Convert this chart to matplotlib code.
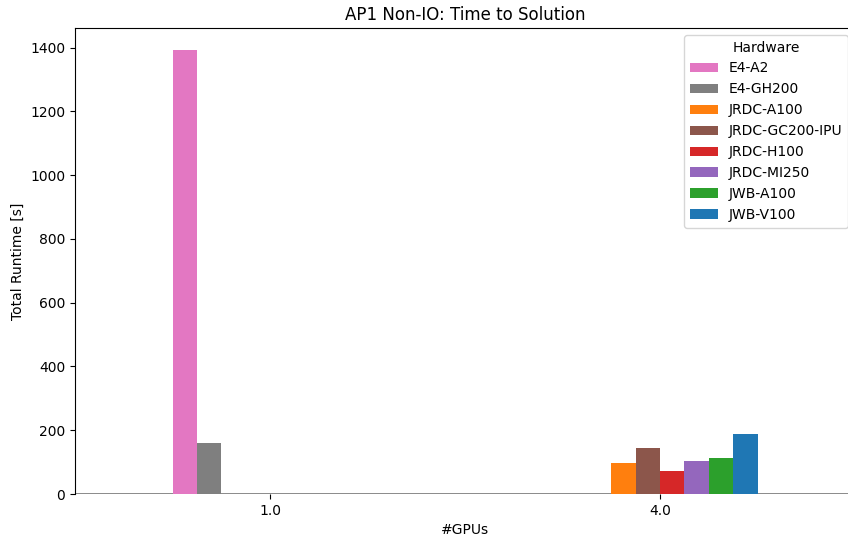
import numpy as np
import matplotlib
matplotlib.use("Agg")
import matplotlib.pyplot as plt

# Node counts on the x axis
gpus = ["1.0", "4.0"]

# Hardware configurations and their colours
hardware = ["E4-A2", "E4-GH200", "JRDC-A100", "JRDC-GC200-IPU",
            "JRDC-H100", "JRDC-MI250", "JWB-A100", "JWB-V100"]
colors = ["#e377c2", "#7f7f7f", "#ff7f0e", "#8c564b",
          "#d62728", "#9467bd", "#2ca02c", "#1f77b4"]

# Total runtime [s] per hardware, one value per GPU count
e4_a2 = [1392, 1.5]
e4_gh200 = [160, 1.5]
jrdc_a100 = [1.5, 98]
jrdc_gc200_ipu = [1.5, 145]
jrdc_h100 = [1.5, 72]
jrdc_mi250 = [1.5, 104]
jwb_a100 = [1.5, 114]
jwb_v100 = [1.5, 188]

runtimes = [e4_a2, e4_gh200, jrdc_a100, jrdc_gc200_ipu,
            jrdc_h100, jrdc_mi250, jwb_a100, jwb_v100]

fig = plt.figure(figsize=(8.48, 5.40), dpi=100)
ax = fig.add_axes([75 / 848, 46 / 540, 780 / 848, 466 / 540])

x = np.arange(len(gpus))
n = len(hardware)
width = 0.5 / n
for i, (name, vals, c) in enumerate(zip(hardware, runtimes, colors)):
    offset = (i - (n - 1) / 2) * width
    ax.bar(x + offset, vals, width=width, color=c, label=name, zorder=2)

# zero reference line in place of the bottom spine
ax.spines["bottom"].set_visible(False)
ax.axhline(0, color="gray", linewidth=2, zorder=1)

ax.set_xlim(-0.5, 1.5)
ax.set_ylim(0, max(e4_a2) * 1.05)
ax.set_xticks(x)
ax.set_xticklabels(gpus, rotation=0)
ax.set_yticks(np.arange(0, 1401, 200))

ax.set_title("AP1 Non-IO: Time to Solution", fontsize=12)
ax.set_xlabel("#GPUs", fontsize=10)
ax.set_ylabel("Total Runtime [s]", fontsize=10)
ax.tick_params(labelsize=10)

ax.legend(title="Hardware", loc="upper right", fontsize=10, title_fontsize=10)

fig.savefig("out.png", dpi=100)
